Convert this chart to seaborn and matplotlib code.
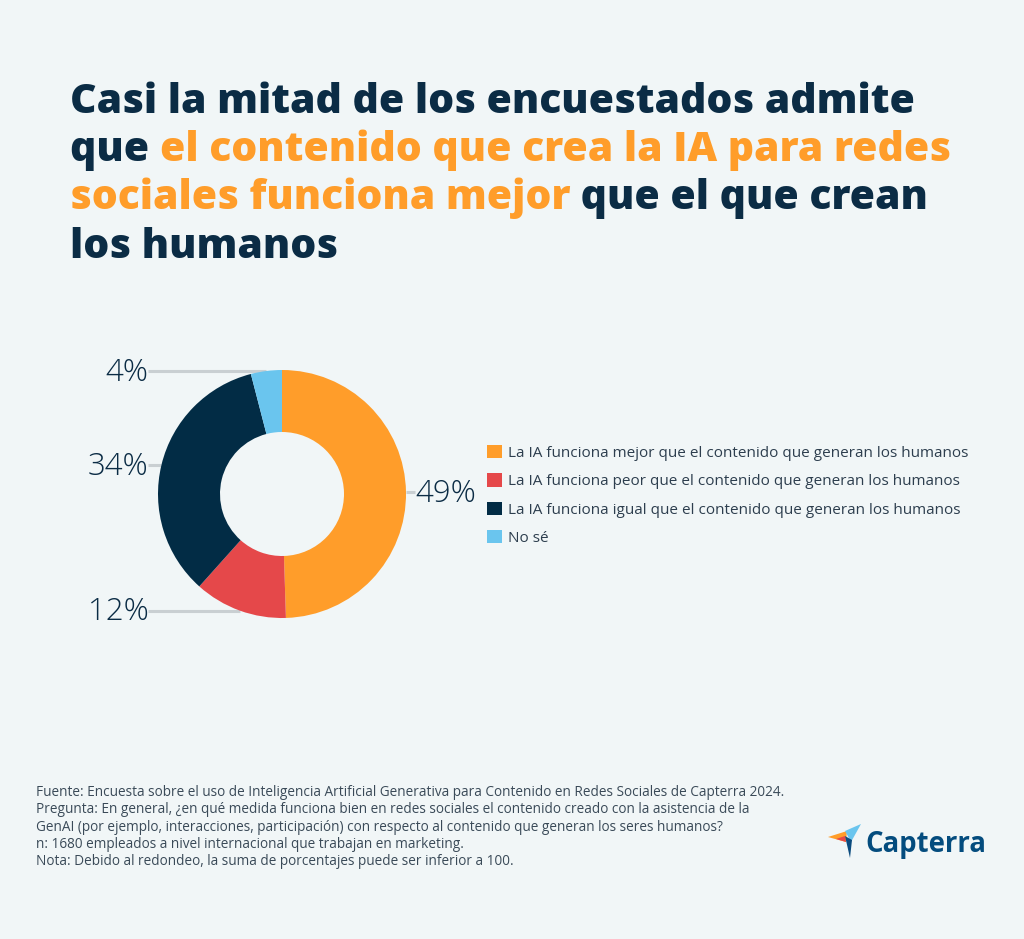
import matplotlib
matplotlib.use("Agg")
import matplotlib.pyplot as plt
from matplotlib.patches import Polygon
import numpy as np
import seaborn as sns

W, H = 1024, 939

categories = [
    "La IA funciona mejor que el contenido que generan los humanos",
    "La IA funciona peor que el contenido que generan los humanos",
    "La IA funciona igual que el contenido que generan los humanos",
    "No sé",
]
values = [49, 12, 34, 4]
pct_labels = ["49%", "12%", "34%", "4%"]
colors = ["#FF9D2A", "#E5484A", "#022C45", "#6AC5EE"]

title_lines = [
    [("Casi la mitad de los encuestados admite", "navy")],
    [("que ", "navy"), ("el contenido que crea la IA para redes", "orange")],
    [("sociales funciona mejor", "orange"), (" que el que crean", "navy")],
    [("los humanos", "navy")],
]
footer_lines = [
    "Fuente: Encuesta sobre el uso de Inteligencia Artificial Generativa para Contenido en Redes Sociales de Capterra 2024.",
    "Pregunta: En general, ¿en qué medida funciona bien en redes sociales el contenido creado con la asistencia de la",
    "GenAI (por ejemplo, interacciones, participación) con respecto al contenido que generan los seres humanos?",
    "n: 1680 empleados a nivel internacional que trabajan en marketing.",
    "Nota: Debido al redondeo, la suma de porcentajes puede ser inferior a 100.",
]

BG = "#F1F6F7"
NAVY = "#0B2C45"
ORANGE = "#FF9D2A"

sns.set_theme(style="white")
plt.rcParams["font.family"] = ["Open Sans", "DejaVu Sans"]
plt.rcParams["figure.facecolor"] = BG
plt.rcParams["axes.facecolor"] = BG

fig = plt.figure(figsize=(W / 100, H / 100), dpi=100)


def fx(x):
    return x / W


def fy(y):
    return 1 - y / H


# title, coloured pieces placed one after another
renderer = fig.canvas.get_renderer()
tcol = {"navy": NAVY, "orange": ORANGE}
for i, line in enumerate(title_lines):
    x = 70
    for txt, c in line:
        t = fig.text(fx(x), fy(113 + 48.2 * i), txt, fontsize=29.4, fontweight="heavy",
                     color=tcol[c], va="baseline", ha="left")
        bb = t.get_window_extent(renderer=renderer)
        x += bb.width

# donut
cx, cy, R = 282, 494, 124
half = 210
ax = fig.add_axes([fx(cx - half), fy(cy + half), 2 * half / W, 2 * half / H])
wedges, _ = ax.pie(values, colors=colors, startangle=90, counterclock=False,
                   radius=1, wedgeprops=dict(width=0.5, edgecolor="none", zorder=3))
lim = half / R
ax.set_xlim(-lim, lim)
ax.set_ylim(-lim, lim)
ax.set_aspect("equal")
ax.axis("off")

left_col = (148 - cx) / R
right_col = (415 - cx) / R
for w, lab in zip(wedges, pct_labels):
    mid = np.deg2rad((w.theta1 + w.theta2) / 2)
    px, py = np.cos(mid), np.sin(mid)
    if px < 0:
        ax.plot([left_col, px], [py, py], color="#C9CFD2", lw=2.2, zorder=1,
                solid_capstyle="butt", clip_on=False)
        ax.text(left_col + 0.005, py - 0.015, lab, ha="right", va="center",
                fontsize=22.5, fontweight="light", color=NAVY, clip_on=False)
    else:
        ax.plot([px, right_col], [py, py], color="#C9CFD2", lw=2.2, zorder=1,
                solid_capstyle="butt", clip_on=False)
        ax.text(right_col + 0.005, py - 0.015, lab, ha="left", va="center",
                fontsize=22.5, fontweight="light", color=NAVY, clip_on=False)

# legend
fig.legend(wedges, categories, loc="upper left", bbox_to_anchor=(fx(481), fy(439)),
           frameon=False, fontsize=11, handlelength=0.95, handleheight=0.95,
           handletextpad=0.45, labelspacing=0.82, labelcolor="#2D3E4E",
           borderaxespad=0)

# footer
for i, line in enumerate(footer_lines):
    fig.text(fx(36), fy(796 + 17.3 * i), line, fontsize=9.8, color="#3A4A58",
             va="baseline", ha="left")

# Capterra logo
logo = [
    ([(828, 837), (847, 831), (846, 842)], "#FF9D2A"),
    ([(836, 839), (846, 842), (845, 836)], "#E5484A"),
    ([(845, 831), (861, 824), (851, 842)], "#6AC5EE"),
    ([(845, 836), (852, 840), (850, 858)], "#0B4B7E"),
]
for pts, c in logo:
    fig.patches.append(Polygon([(fx(a), fy(b)) for a, b in pts], closed=True,
                               transform=fig.transFigure, facecolor=c,
                               edgecolor="none"))
fig.text(fx(865), fy(852), "Capterra", fontsize=19.8, fontweight="bold",
         color="#044C7E", va="baseline", ha="left")

fig.savefig("out.png", dpi=100, facecolor=BG)
